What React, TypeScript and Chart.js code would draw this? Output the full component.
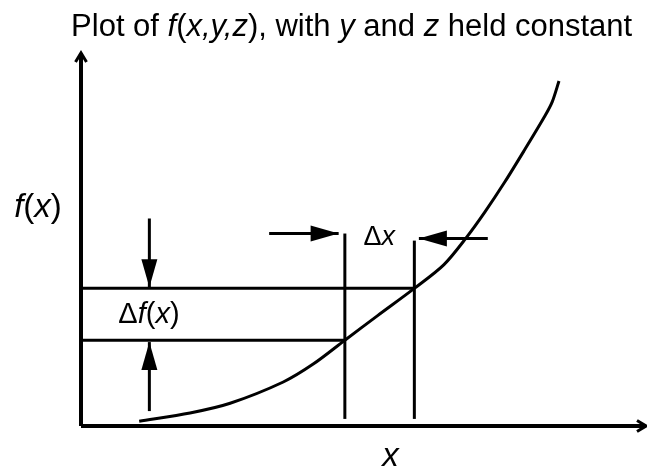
import React, { useEffect, useRef } from "react";
import { Chart, registerables } from "chart.js";

Chart.register(...registerables);

// ---- data (abstract units: axes run 0..100) ----
const AXIS_MAX = 100;
const curveX = [10.3, 19.3, 26.4, 35.8, 41.1, 46.7, 52.5, 59.0, 64.2, 68.3, 71.5, 75.0, 78.5, 82.1, 83.4, 84.6];
const curveY = [1.3, 3.5, 6.1, 11.8, 16.6, 23.0, 29.6, 36.9, 43.2, 50.7, 57.4, 65.4, 74.0, 83.1, 86.9, 92.5];

const xMarks = [46.7, 59.0]; // x and x + Δx
const fMarks = [23.0, 36.9]; // f(x) and f(x + Δx)
const verticalBottom = 1.9;
const verticalTops = [51.6, 49.7];

const vArrowX = 12.1;
const downArrowY = [55.6, 37.2];
const upArrowY = [4.0, 22.5];
const rightArrowX = [33.3, 45.6];
const rightArrowY = 51.6;
const leftArrowX = [72.0, 59.8];
const leftArrowY = 50.3;

type Seg = { t: string; i?: boolean };
const titleParts: Seg[] = [
  { t: "Plot of " }, { t: "f", i: true }, { t: "(" }, { t: "x,y,z", i: true }, { t: "), with " },
  { t: "y", i: true }, { t: " and " }, { t: "z", i: true }, { t: " held constant" },
];
const fxLabel: Seg[] = [{ t: "f", i: true }, { t: "(" }, { t: "x", i: true }, { t: ")" }];
const dfLabel: Seg[] = [{ t: "\u0394" }, { t: "f", i: true }, { t: "(" }, { t: "x", i: true }, { t: ")" }];
const dxLabel: Seg[] = [{ t: "\u0394" }, { t: "x", i: true }];
const xLabel: Seg[] = [{ t: "x", i: true }];

const labels: { segs: Seg[]; x: number; y: number; align: "left" | "center" | "right"; size: number }[] = [
  { segs: titleParts, x: 47.9, y: 106.8, align: "center", size: 31 },
  { segs: fxLabel, x: -3.4, y: 58.6, align: "right", size: 33 },
  { segs: dfLabel, x: 6.6, y: 29.7, align: "left", size: 29 },
  { segs: dxLabel, x: 50.0, y: 50.6, align: "left", size: 27 },
  { segs: xLabel, x: 54.8, y: -8.2, align: "center", size: 33 },
];

const FONT = '"Liberation Sans", Arial, Helvetica, sans-serif';

const annotPlugin = {
  id: "annot",
  afterDatasetsDraw(chart: any) {
    const ctx = chart.ctx as CanvasRenderingContext2D;
    chart.data.datasets.forEach((ds: any, i: number) => {
      const head = ds.arrowHead;
      if (!head) return;
      const pts = chart.getDatasetMeta(i).data;
      const a = pts[pts.length - 2];
      const b = pts[pts.length - 1];
      const ang = Math.atan2(b.y - a.y, b.x - a.x);
      ctx.save();
      ctx.translate(b.x, b.y);
      ctx.rotate(ang);
      ctx.fillStyle = "#000";
      ctx.strokeStyle = "#000";
      if (head === "filled") {
        ctx.beginPath();
        ctx.moveTo(0, 0);
        ctx.lineTo(-28, -8);
        ctx.lineTo(-28, 8);
        ctx.closePath();
        ctx.fill();
      } else {
        ctx.beginPath();
        ctx.moveTo(-9, -5.5);
        ctx.lineTo(0, 0);
        ctx.lineTo(-9, 5.5);
        ctx.lineWidth = 3;
        ctx.lineJoin = "miter";
        ctx.stroke();
      }
      ctx.restore();
    });
  },
  afterDraw(chart: any) {
    const ctx = chart.ctx as CanvasRenderingContext2D;
    const xs = chart.scales.x;
    const ys = chart.scales.y;
    ctx.save();
    ctx.fillStyle = "#000";
    ctx.textBaseline = "middle";
    labels.forEach((lb) => {
      const font = (it?: boolean) => `${it ? "italic " : ""}${lb.size}px ${FONT}`;
      let total = 0;
      const widths = lb.segs.map((s) => {
        ctx.font = font(s.i);
        const w = ctx.measureText(s.t).width;
        total += w;
        return w;
      });
      const px = xs.getPixelForValue(lb.x);
      const py = ys.getPixelForValue(lb.y);
      let x = lb.align === "left" ? px : lb.align === "right" ? px - total : px - total / 2;
      lb.segs.forEach((s, k) => {
        ctx.font = font(s.i);
        ctx.textAlign = "left";
        ctx.fillText(s.t, x, py);
        x += widths[k];
      });
    });
    ctx.restore();
  },
};

function line(points: { x: number; y: number }[], width: number, arrowHead?: string) {
  return {
    data: points,
    borderColor: "#000",
    backgroundColor: "#000",
    borderWidth: width,
    pointRadius: 0,
    showLine: true,
    fill: false,
    clip: false as const,
    tension: 0,
    borderCapStyle: "butt" as const,
    arrowHead,
  };
}

export default function App() {
  const ref = useRef<HTMLCanvasElement>(null);
  useEffect(() => {
    document.body.style.margin = "0";
    const canvas = ref.current!;
    const curve = {
      ...line(curveX.map((x, i) => ({ x, y: curveY[i] })), 3),
      tension: 0.3,
      borderJoinStyle: "round" as const,
    };
    const datasets: any[] = [
      line([{ x: 0, y: 0 }, { x: AXIS_MAX, y: 0 }], 4, "open"),
      line([{ x: 0, y: 0 }, { x: 0, y: AXIS_MAX }], 4, "open"),
      line([{ x: 0, y: fMarks[1] }, { x: xMarks[1], y: fMarks[1] }], 3),
      line([{ x: 0, y: fMarks[0] }, { x: xMarks[0], y: fMarks[0] }], 3),
      line([{ x: xMarks[0], y: verticalBottom }, { x: xMarks[0], y: verticalTops[0] }], 3),
      line([{ x: xMarks[1], y: verticalBottom }, { x: xMarks[1], y: verticalTops[1] }], 3),
      line([{ x: vArrowX, y: downArrowY[0] }, { x: vArrowX, y: downArrowY[1] }], 3, "filled"),
      line([{ x: vArrowX, y: upArrowY[0] }, { x: vArrowX, y: upArrowY[1] }], 3, "filled"),
      line([{ x: rightArrowX[0], y: rightArrowY }, { x: rightArrowX[1], y: rightArrowY }], 3, "filled"),
      line([{ x: leftArrowX[0], y: leftArrowY }, { x: leftArrowX[1], y: leftArrowY }], 3, "filled"),
      curve,
    ];
    const chart = new Chart(canvas, {
      type: "scatter",
      data: { datasets },
      options: {
        animation: false,
        responsive: false,
        devicePixelRatio: 1,
        layout: { padding: { left: 81, right: 1, top: 53, bottom: 40 } },
        plugins: { legend: { display: false }, tooltip: { enabled: false }, title: { display: false } },
        scales: {
          x: { type: "linear", min: 0, max: AXIS_MAX, display: false },
          y: { type: "linear", min: 0, max: AXIS_MAX, display: false },
        },
        events: [],
      },
      plugins: [annotPlugin],
    });
    return () => chart.destroy();
  }, []);
  return (
    <div style={{ width: 647, height: 466, background: "#fff" }}>
      <canvas ref={ref} width={647} height={466} />
    </div>
  );
}
